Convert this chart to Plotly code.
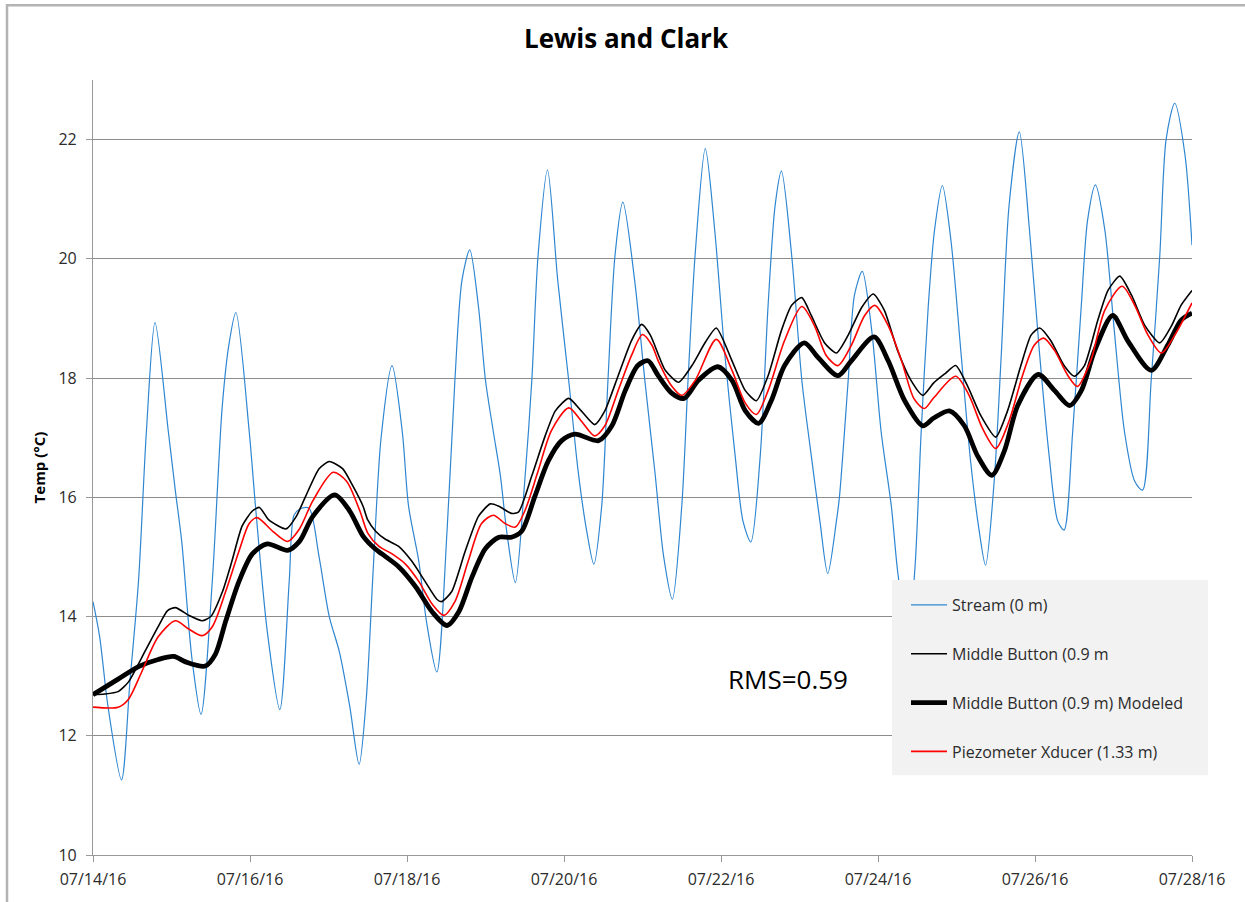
import pandas as pd
import plotly.graph_objects as go

START = "2016-07-14"

# ---- data (day offsets from 07/14/16 00:00, temperature in degC) ----
stream_day = [0.00, 0.085, 0.19, 0.363, 0.47, 0.58, 0.68, 0.79, 0.96, 1.05, 1.13, 1.26, 1.376,
              1.52, 1.645, 1.73, 1.82, 1.99, 2.07, 2.22, 2.38, 2.50, 2.56, 2.63, 2.75, 2.88,
              3.01, 3.14, 3.27, 3.39, 3.48, 3.57, 3.67, 3.81, 3.94, 4.02, 4.15, 4.25, 4.38,
              4.51, 4.61, 4.70, 4.80, 4.91, 5.00, 5.10, 5.19, 5.27, 5.38, 5.50, 5.59, 5.67,
              5.79, 5.92, 6.06, 6.18, 6.29, 6.38, 6.48, 6.56, 6.65, 6.75, 6.90, 7.03, 7.16,
              7.27, 7.38, 7.50, 7.58, 7.67, 7.80, 7.92, 8.05, 8.18, 8.28, 8.38, 8.50, 8.60,
              8.69, 8.77, 8.90, 9.03, 9.15, 9.26, 9.36, 9.47, 9.51, 9.62, 9.70, 9.80, 9.92,
              10.04, 10.17, 10.25, 10.38, 10.47, 10.55, 10.64, 10.72, 10.82, 10.93, 11.06,
              11.18, 11.29, 11.37, 11.48, 11.57, 11.67, 11.80, 11.93, 12.06, 12.18, 12.29,
              12.37, 12.48, 12.59, 12.67, 12.77, 12.89, 13.01, 13.14, 13.27, 13.37, 13.48,
              13.59, 13.67, 13.78, 13.91, 14.00]
stream_temp = [14.25, 13.66, 12.5, 11.26, 12.9, 14.6, 17.1, 18.93, 17.1, 16.1, 15.26, 13.3, 12.36,
               14.6, 17.5, 18.55, 19.1, 17.1, 15.85, 13.75, 12.44, 14.6, 15.7, 15.8, 15.82, 15.0,
               14.0, 13.4, 12.5, 11.52, 12.6, 14.8, 17.0, 18.21, 17.1, 15.85, 14.93, 13.9, 13.07,
               15.43, 17.96, 19.64, 20.15, 19.2, 17.96, 17.1, 16.36, 15.43, 14.57, 16.27, 17.96, 20.06,
               21.49, 19.64, 17.96, 16.44, 15.43, 14.88, 15.85, 17.96, 20.06, 20.95, 19.64, 17.96, 16.4,
               15.0, 14.29, 15.85, 17.96, 20.06, 21.85, 20.48, 18.38, 16.7, 15.6, 15.25, 16.7, 19.22,
               20.9, 21.47, 20.06, 17.96, 16.7, 15.6, 14.72, 15.6, 16.02, 17.96, 19.39, 19.79, 18.8,
               17.1, 15.85, 14.76, 13.6, 14.8, 17.1, 19.2, 20.48, 21.23, 20.3, 18.38,
               16.6, 15.43, 14.86, 16.27, 18.38, 20.9, 22.13, 20.48, 18.38, 16.7, 15.6,
               15.45, 17.1, 19.22, 20.65, 21.24, 20.48, 18.8, 17.1, 16.27, 16.12, 17.96,
               20.06, 22.0, 22.61, 21.75, 20.23]

button_day = [0.00, 0.15, 0.32, 0.45, 0.66, 0.83, 0.95, 1.05, 1.22, 1.39, 1.50, 1.65, 1.77, 1.90,
              2.03, 2.12, 2.24, 2.46, 2.59, 2.71, 2.88, 3.01, 3.18, 3.31, 3.44, 3.50, 3.60, 3.72,
              3.89, 4.06, 4.23, 4.38, 4.44, 4.57, 4.74, 4.91, 5.06, 5.17, 5.33, 5.42, 5.59, 5.76,
              5.89, 6.06, 6.22, 6.39, 6.52, 6.69, 6.86, 6.99, 7.10, 7.29, 7.46, 7.63, 7.80, 7.94,
              8.14, 8.31, 8.45, 8.60, 8.77, 8.90, 9.03, 9.15, 9.32, 9.47, 9.62, 9.79, 9.94, 10.08,
              10.25, 10.42, 10.57, 10.71, 10.86, 10.99, 11.14, 11.31, 11.50, 11.65, 11.82, 11.95,
              12.06, 12.20, 12.37, 12.50, 12.63, 12.80, 12.93, 13.08, 13.23, 13.40, 13.59, 13.74,
              13.86, 14.00]
button_temp = [12.69, 12.70, 12.74, 12.9, 13.41, 13.83, 14.1, 14.15, 14.02, 13.93, 14.0, 14.42, 14.93, 15.52,
               15.77, 15.83, 15.62, 15.47, 15.68, 16.02, 16.48, 16.6, 16.48, 16.19, 15.85, 15.62, 15.43, 15.3,
               15.18, 14.93, 14.59, 14.29, 14.25, 14.42, 15.09, 15.68, 15.89, 15.85, 15.73, 15.75, 16.36, 17.03,
               17.45, 17.66, 17.45, 17.22, 17.45, 18.04, 18.63, 18.9, 18.72, 18.13, 17.93, 18.21, 18.6, 18.84,
               18.29, 17.79, 17.62, 18.04, 18.8, 19.22, 19.35, 19.05, 18.59, 18.42, 18.72, 19.18, 19.41, 19.14,
               18.46, 17.96, 17.71, 17.92, 18.08, 18.21, 17.87, 17.37, 17.01, 17.45, 18.21, 18.72,
               18.84, 18.63, 18.21, 18.03, 18.21, 18.97, 19.47, 19.71, 19.39, 18.88, 18.59, 18.88,
               19.22, 19.47]

modeled_day = [0.00, 0.32, 0.58, 0.83, 1.03, 1.18, 1.43, 1.56, 1.69, 1.86, 2.03, 2.22, 2.48, 2.63,
               2.80, 3.08, 3.27, 3.44, 3.59, 3.68, 3.89, 4.11, 4.32, 4.51, 4.66, 4.83, 5.00, 5.17,
               5.33, 5.46, 5.63, 5.80, 5.97, 6.14, 6.44, 6.61, 6.78, 6.94, 7.07, 7.20, 7.37, 7.53,
               7.71, 7.96, 8.14, 8.31, 8.48, 8.64, 8.81, 9.06, 9.24, 9.49, 9.66, 9.95, 10.13, 10.34,
               10.57, 10.71, 10.91, 11.10, 11.27, 11.45, 11.61, 11.78, 12.04, 12.25, 12.44, 12.59,
               12.76, 12.99, 13.18, 13.48, 13.69, 13.86, 14.00]
modeled_temp = [12.69, 12.95, 13.16, 13.28, 13.33, 13.24, 13.17, 13.37, 13.92, 14.59, 15.05, 15.22, 15.11, 15.26,
                15.68, 16.04, 15.77, 15.35, 15.14, 15.05, 14.84, 14.5, 14.08, 13.85, 14.08, 14.67, 15.14, 15.33,
                15.33, 15.43, 16.02, 16.61, 16.95, 17.06, 16.95, 17.2, 17.79, 18.21, 18.29, 18.04, 17.75, 17.66,
                17.96, 18.19, 17.96, 17.45, 17.24, 17.62, 18.21, 18.59, 18.34, 18.04, 18.29, 18.69, 18.29, 17.62,
                17.2, 17.33, 17.45, 17.2, 16.69, 16.37, 16.78, 17.54, 18.06, 17.79, 17.54, 17.79,
                18.46, 19.05, 18.63, 18.13, 18.55, 18.97, 19.09]

piezo_day = [0.00, 0.32, 0.45, 0.62, 0.83, 1.05, 1.22, 1.39, 1.52, 1.69, 1.86, 1.99, 2.09, 2.29,
             2.48, 2.63, 2.80, 3.06, 3.23, 3.40, 3.50, 3.64, 3.81, 3.98, 4.15, 4.32, 4.47, 4.61,
             4.78, 4.95, 5.10, 5.25, 5.38, 5.50, 5.67, 5.84, 6.06, 6.22, 6.39, 6.52, 6.69, 6.86,
             7.00, 7.12, 7.20, 7.37, 7.50, 7.67, 7.94, 8.14, 8.31, 8.45, 8.60, 8.81, 9.03, 9.19,
             9.34, 9.49, 9.66, 9.83, 9.96, 10.13, 10.30, 10.46, 10.59, 10.71, 10.99, 11.16, 11.33,
             11.50, 11.67, 11.84, 11.99, 12.11, 12.25, 12.42, 12.54, 12.71, 12.89, 13.11, 13.27,
             13.44, 13.61, 13.78, 14.00]
piezo_temp = [12.48, 12.48, 12.61, 13.07, 13.66, 13.93, 13.79, 13.68, 13.83, 14.42, 15.1, 15.56, 15.66, 15.43,
              15.26, 15.47, 15.94, 16.42, 16.27, 15.77, 15.40, 15.18, 15.05, 14.88, 14.59, 14.21, 14.02, 14.25,
              14.93, 15.56, 15.7, 15.56, 15.5, 15.77, 16.44, 17.12, 17.5, 17.28, 17.03, 17.2, 17.79, 18.38,
              18.73, 18.55, 18.29, 17.87, 17.71, 17.96, 18.65, 18.13, 17.58, 17.39, 17.79, 18.63, 19.2, 18.88,
              18.38, 18.21, 18.55, 19.05, 19.22, 18.88, 18.29, 17.65, 17.49, 17.67, 18.03, 17.71, 17.16,
              16.82, 17.28, 18.04, 18.55, 18.67, 18.46, 18.04, 17.86, 18.29, 19.14, 19.54, 19.22,
              18.72, 18.42, 18.72, 19.26]

series_names = ["Stream (0 m)", "Middle Button (0.9 m", "Middle Button (0.9 m) Modeled",
                "Piezometer Xducer (1.33 m)"]
title_text = "Lewis and Clark"
y_title = "Temp (°C)"
rms_text = "RMS=0.59"


def to_dates(days):
    return pd.Timestamp(START) + pd.to_timedelta(days, unit="D")


# ---- layout geometry (pixels) ----
W, H = 1245, 902
L, R, T, B = 93, 1192, 80, 858
pw, ph = R - L, B - T


def px(x):
    return (x - L) / pw


def py(y):
    return (B - y) / ph


fig = go.Figure()

fig.add_trace(go.Scatter(x=to_dates(stream_day), y=stream_temp, mode="lines",
                         name=series_names[0], legendgroup="a", legendrank=1,
                         line=dict(color="#2E86D1", width=1.2, shape="spline", smoothing=0.8)))
fig.add_trace(go.Scatter(x=to_dates(modeled_day), y=modeled_temp, mode="lines",
                         name=series_names[2], legendgroup="c", legendrank=3,
                         line=dict(color="#000000", width=4.8, shape="spline", smoothing=0.8)))
fig.add_trace(go.Scatter(x=to_dates(button_day), y=button_temp, mode="lines",
                         name=series_names[1], legendgroup="b", legendrank=2,
                         line=dict(color="#000000", width=1.6, shape="spline", smoothing=0.6)))
fig.add_trace(go.Scatter(x=to_dates(piezo_day), y=piezo_temp, mode="lines",
                         name=series_names[3], legendgroup="d", legendrank=4,
                         line=dict(color="#FF0000", width=1.6, shape="spline", smoothing=0.8)))

tick_font = dict(family="Open Sans", size=16, color="#2b2b2b")

fig.update_layout(
    width=W, height=H,
    margin=dict(l=L, r=W - R, t=T, b=H - B, pad=0),
    paper_bgcolor="white", plot_bgcolor="white",
    title=dict(text=f"<b>{title_text}</b>", x=(626) / W, xanchor="center",
               y=1 - 39 / H, yanchor="middle",
               font=dict(family="Open Sans", size=26, color="#000000")),
    xaxis=dict(type="date", range=[to_dates(0), to_dates(14)],
               tick0=START, dtick=2 * 86400000, tickformat="%m/%d/%y",
               showgrid=False, showline=True, linecolor="#999999", linewidth=1.2,
               ticks="outside", ticklen=6, tickcolor="#999999",
               ticklabelstandoff=4,
               tickfont=tick_font, zeroline=False),
    yaxis=dict(range=[10, 23], tick0=10, dtick=2,
               showgrid=True, gridcolor="#8c8c8c", gridwidth=1,
               showline=True, linecolor="#999999", linewidth=1.2,
               ticks="outside", ticklen=6, tickcolor="#999999",
               ticklabelstandoff=6,
               tickfont=tick_font, zeroline=False,
               title=dict(text=f"<b>{y_title}</b>", standoff=9,
                          font=dict(family="Open Sans", size=15, color="#000000"))),
    legend=dict(x=px(906), y=py(590), xanchor="left", yanchor="top",
                bgcolor="rgba(0,0,0,0)", borderwidth=0,
                font=dict(family="Open Sans", size=16, color="#2b2b2b"),
                tracegroupgap=25, traceorder="grouped",
                itemwidth=36),
    showlegend=True,
)

# legend background panel (drawn over the data, under the legend entries)
fig.add_shape(type="rect", xref="paper", yref="paper",
              x0=px(892), x1=px(1208), y0=py(778), y1=py(582),
              fillcolor="#f2f2f2", line=dict(width=0), layer="above")

fig.add_annotation(x=px(788), y=py(681), xref="paper", yref="paper",
                   text=rms_text, showarrow=False,
                   font=dict(family="Open Sans", size=26, color="#000000"),
                   xanchor="center", yanchor="middle")

# chart-area frame (top and left edges visible in the reference)
fig.add_shape(type="path", xref="paper", yref="paper",
              path=f"M {px(7)} {py(910)} L {px(7)} {py(5)} L {px(1260)} {py(5)}",
              line=dict(color="#b4b4b4", width=2.5), layer="above")

# remove the default 8px page margin so the figure sits at the window origin
fig.write_html("out.html", config={"displayModeBar": False},
               post_script="document.body.style.margin='0';")
